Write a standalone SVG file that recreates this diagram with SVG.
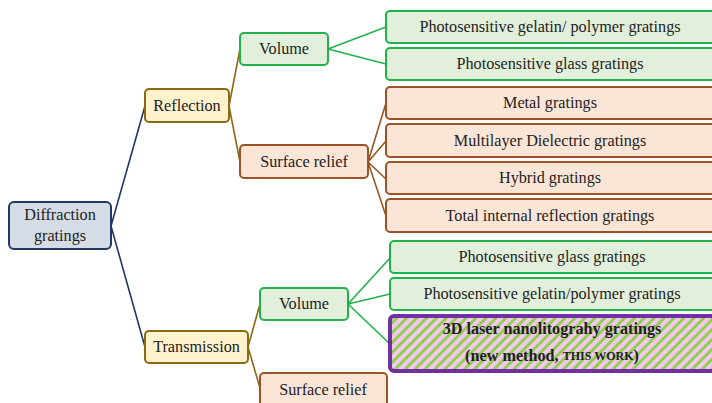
<svg xmlns="http://www.w3.org/2000/svg" width="712" height="403" viewBox="0 0 712 403">
<defs>
<pattern id="hatch" patternUnits="userSpaceOnUse" width="7" height="7" patternTransform="rotate(45)">
<rect x="0" y="0" width="7" height="7" fill="#f5c8f2"/>
<rect x="0" y="0" width="3" height="7" fill="#92cf50"/>
</pattern>
</defs>
<style>
text{font-family:"Liberation Serif","DejaVu Serif",serif;font-size:16.2px;fill:#1e1e1e;text-anchor:middle;dominant-baseline:central}
.root rect{fill:#d6dce5;stroke:#1f3864;stroke-width:2}
.cat rect{fill:#fff2cc;stroke:#8a6a14;stroke-width:2}
.vol rect{fill:#e2efda;stroke:#22b24c;stroke-width:2}
.sr rect{fill:#fbe5d6;stroke:#9a5428;stroke-width:2}
.new rect{fill:url(#hatch);stroke:#7030a0;stroke-width:4}
.new text{font-weight:bold}
.c{fill:none;stroke-width:1.6}
.navy{stroke:#1f3864}
.gold{stroke:#8a6a14}
.green{stroke:#22b24c}
.brown{stroke:#9a5428}
</style>
<g id="connectors">
<path class="c navy" d="M111 226 L145 106 M111 226 L145 347"/>
<path class="c gold" d="M229 106 L240 49 M229 106 L240 162"/>
<path class="c gold" d="M248 347 L260 304 M248 347 L260 388"/>
<path class="c green" d="M328 49 L386 27 M328 49 L386 64"/>
<path class="c brown" d="M368 162 L386 103 M368 162 L386 141 M368 162 L386 179 M368 162 L386 216"/>
<path class="c green" d="M348 304 L390 258 M348 304 L390 294"/>
<path class="c green" d="M348 304 L390 344" stroke-width="3.5"/>
</g>
<g id="diffraction" class="root"><rect x="9" y="202" width="102" height="47" rx="5"/><text x="60" y="215">Diffraction</text><text x="60" y="236">gratings</text></g>
<g id="reflection" class="cat"><rect x="145" y="89" width="84" height="33" rx="4"/><text x="187" y="105.5">Reflection</text></g>
<g id="transmission" class="cat"><rect x="145" y="331" width="103" height="32" rx="4"/><text x="196.5" y="347">Transmission</text></g>
<g id="volume-r" class="vol"><rect x="240" y="33" width="88" height="32" rx="4"/><text x="284" y="49">Volume</text></g>
<g id="surface-r" class="sr"><rect x="240" y="145" width="128" height="33" rx="4"/><text x="304" y="161.5">Surface relief</text></g>
<g id="volume-t" class="vol"><rect x="260" y="288" width="88" height="32" rx="4"/><text x="304" y="304">Volume</text></g>
<g id="surface-t" class="sr"><rect x="260" y="373" width="127" height="40" rx="4"/><text x="323" y="390">Surface relief</text></g>
<g id="r-gelatin" class="vol"><rect x="386" y="11" width="340" height="32" rx="4"/><text x="550" y="27">Photosensitive gelatin/ polymer gratings</text></g>
<g id="r-glass" class="vol"><rect x="386" y="48" width="340" height="32" rx="4"/><text x="550" y="64">Photosensitive glass gratings</text></g>
<g id="metal" class="sr"><rect x="386" y="87" width="340" height="32" rx="4"/><text x="550" y="103">Metal gratings</text></g>
<g id="multilayer" class="sr"><rect x="386" y="124" width="340" height="33" rx="4"/><text x="550" y="140.5">Multilayer Dielectric gratings</text></g>
<g id="hybrid" class="sr"><rect x="386" y="162" width="340" height="32" rx="4"/><text x="550" y="178">Hybrid gratings</text></g>
<g id="tir" class="sr"><rect x="386" y="199" width="340" height="33" rx="4"/><text x="550" y="215.5">Total internal reflection gratings</text></g>
<g id="t-glass" class="vol"><rect x="390" y="241" width="340" height="32" rx="4"/><text x="552" y="257">Photosensitive glass gratings</text></g>
<g id="t-gelatin" class="vol"><rect x="390" y="278" width="340" height="32" rx="4"/><text x="552" y="294">Photosensitive gelatin/polymer gratings</text></g>
<g id="laser" class="new"><rect x="390" y="316" width="340" height="55" rx="4"/><text x="552" y="329">3D laser nanolitograhy gratings</text><text x="552" y="356">(new method, <tspan font-size="12">THIS WORK</tspan>)</text></g>
</svg>
